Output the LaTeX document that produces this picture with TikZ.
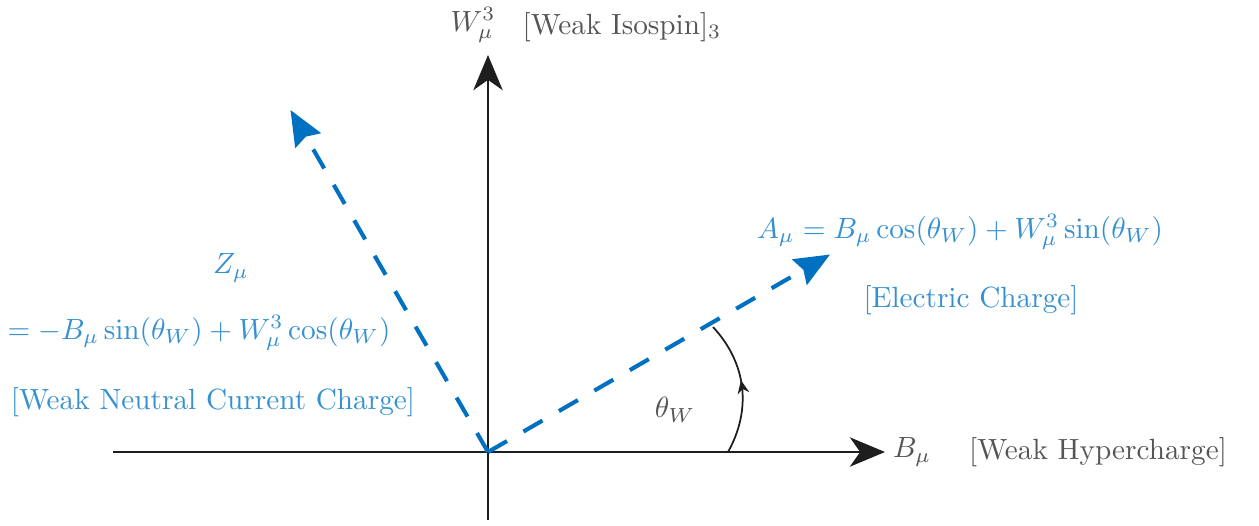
\documentclass[tikz,border=0pt]{standalone}
\usetikzlibrary{arrows.meta,decorations.markings}
\definecolor{axisblack}{RGB}{30,30,30}
\definecolor{labgray}{RGB}{85,85,85}
\definecolor{vecblue}{RGB}{0,112,192}
\definecolor{txtblue}{RGB}{55,145,208}
\begin{document}
\begin{tikzpicture}[x=0.342pt,y=-0.342pt,
  axis/.style={draw=axisblack, line width=1pt, -{Stealth[length=12pt,width=10pt,inset=3.5pt]}},
  vec/.style={draw=vecblue, line width=1.4pt, dash pattern=on 7.5pt off 6.5pt, -{Stealth[length=12pt,width=10pt,inset=1.5pt]}},
  glabel/.style={text=labgray, inner sep=0pt},
  blabel/.style={text=txtblue, inner sep=0pt},
  anglearc/.style={draw=axisblack, line width=0.6pt, postaction={decorate},
    decoration={markings, mark=at position 0.55 with {\arrow{Stealth[length=4.5pt,width=4pt]}}}}]
\useasboundingbox (0,0) rectangle (1259,525);
% coordinates
\coordinate (O) at (488,452);
\coordinate (Bl) at (113,452);
\coordinate (Br) at (885,452);
\coordinate (Wb) at (488,520);
\coordinate (Wt) at (488,55);
\coordinate (Zt) at (290.5,110);
\coordinate (At) at (830,254.5);
\coordinate (P1) at (728,452);
\coordinate (P2) at (713,327);
% axes
\draw[axis] (Bl) -- (Br);
\draw[axis] (Wb) -- (Wt);
% vectors
\draw[vec] (O) -- (Zt);
\draw[vec] (O) -- (At);
% angle
\draw[anglearc] (P1) to[bend right=36] (P2);
% labels
\node[glabel] (thlab) at (675,410) {$\theta_W$};
\node[glabel] (Blab) at (912,452) {$B_\mu$};
\node[glabel] (Bdesc) at (1098,452) {[Weak Hypercharge]};
\node[glabel] (Wlab) at (473,25) {$W^3_\mu$};
\node[glabel] (Wdesc) at (622,27) {[Weak Isospin]$_3$};
\node[blabel] (Alab) at (960,232) {$A_\mu = B_\mu\cos(\theta_W) + W^3_\mu\sin(\theta_W)$};
\node[blabel] (Adesc) at (971,300) {[Electric Charge]};
\node[blabel] (Zlab) at (231,268) {$Z_\mu$};
\node[blabel] (Zeq) at (199,333) {$= -B_\mu\sin(\theta_W) + W^3_\mu\cos(\theta_W)$};
\node[blabel] (Zdesc) at (213,402) {[Weak Neutral Current Charge]};
\end{tikzpicture}
\end{document}
